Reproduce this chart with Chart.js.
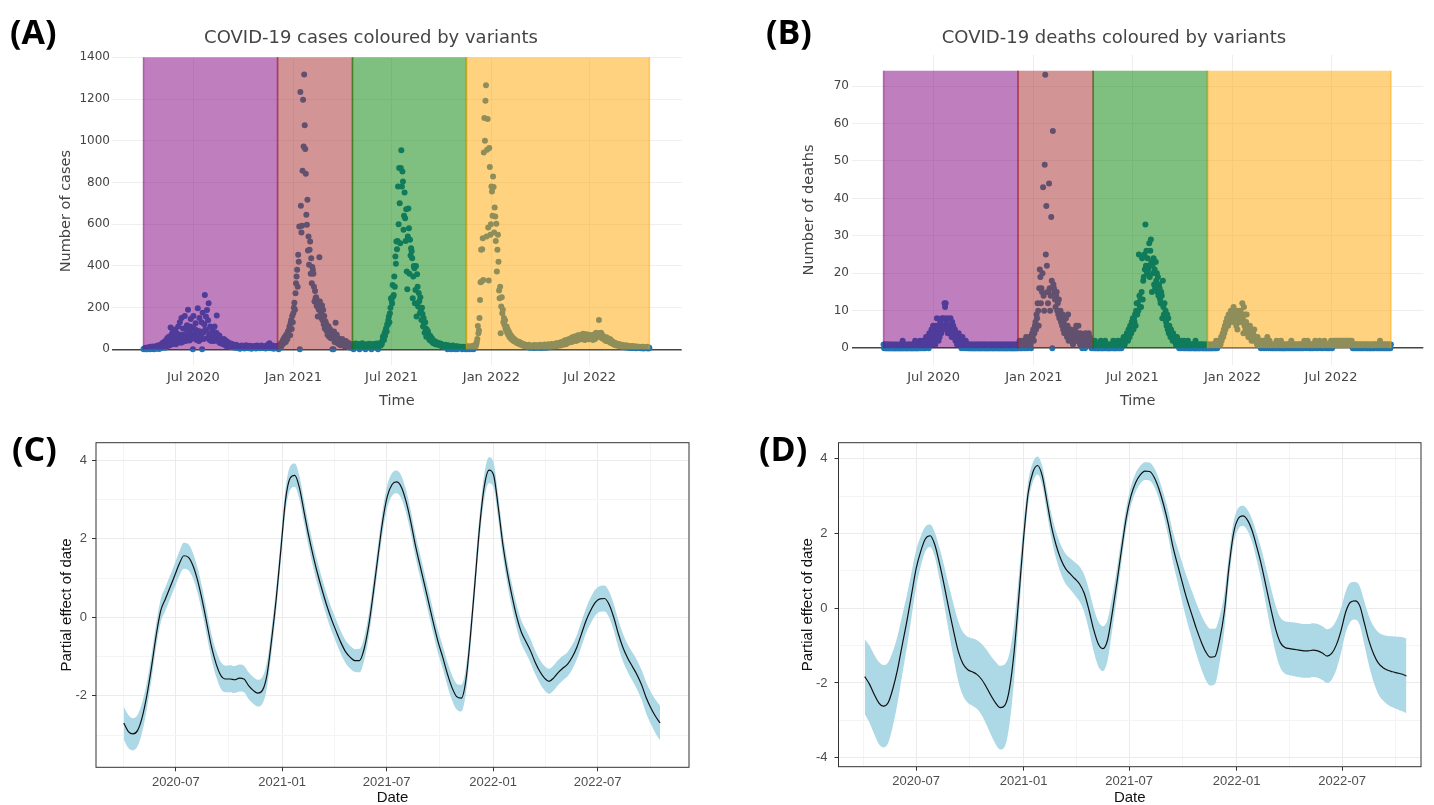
<!DOCTYPE html>
<html>
<head>
<meta charset="utf-8">
<script src="https://cdn.jsdelivr.net/npm/chart.js@4.4.0/dist/chart.umd.min.js"></script>
<style>
  body { margin: 0; background: #fff; width: 1434px; height: 805px; position: relative; overflow: hidden; }
  canvas { position: absolute; }
  .tag { position: absolute; font-family: "Open Sans", sans-serif; font-weight: 700; font-size: 34px; line-height: 34px; color: #000; }
  .ttl { position: absolute; font-family: "DejaVu Sans", sans-serif; font-size: 18px; line-height: 20px; color: #444; white-space: nowrap; transform: translateX(-50%); }
</style>
</head>
<body>
<canvas id="panelA" width="717" height="420" style="left:0;top:0"></canvas>
<canvas id="panelB" width="717" height="420" style="left:717px;top:0"></canvas>
<canvas id="panelC" width="717" height="385" style="left:0;top:420px"></canvas>
<canvas id="panelD" width="717" height="385" style="left:717px;top:420px"></canvas>

<div class="tag" style="left:10px;top:14px">(A)</div>
<div class="tag" style="left:766px;top:14px">(B)</div>
<div class="tag" style="left:12px;top:431px">(C)</div>
<div class="tag" style="left:759px;top:431px">(D)</div>
<div class="ttl" style="left:371px;top:27px">COVID-19 cases coloured by variants</div>
<div class="ttl" style="left:1114px;top:27px">COVID-19 deaths coloured by variants</div>

<script>
// daily series start on this date, one value per day
const seriesStart = '2020-03-31';

const cases = [
  2,0,5,3,8,1,4,0,6,10, 3,7,0,12,5,9,2,14,6,0, 8,11,4,15,3,9,18,6,12,2, 20,9,14,25,7,30,16,
  12,35,20,8,42,28,15,55,33,22, 60,18,45,105,38,72,25,90,50,
  45,30,95,60,25,78,40,55,110,35, 45,130,70,32,150,58,35,100,70,48, 160,65,40,95,115,55,190,60,85,42,
  110,145,50,105,70,0,160,55,98,80, 125,60,45,90,197,75,40,150,45,85, 62,130,0,175,80,50,120,261,95,157,
  90,189,55,140,221,70,45,109,60,40, 77,95,50,68,40,110,55,45,80,162, 50,70,45,35,65,30,50,40,28,45,
  40,25,50,30,45,20,35,15,38,28, 22,30,18,25,12,28,20,15,24,10, 18,12,20,8,15,22,10,
  8,12,5,15,10,3,14,9,18,6, 11,7,16,4,13,9,20,6,12,8, 15,5,10,17,7,12,3,14,9,11, 6,16,8,13,4,10,18,7,12,9,
  14,5,11,8,19,6,13,10,7,15, 9,12,4,16,8,11,22,6,14,29, 10,7,15,5,12,18,8,3,11,6, 14,9,16,12,
  5,12,0,18,13,25,8,30,20,38, 45,28,55,40,62,35,70,60,48,85, 75,93,110,68,125,140,98,160,130,173,
  200,224,190,269,317,349,381,300,453,420, 589,0,1234,688,560,592,856,1197,973,1317,
  1074,960,842,645,597,717,474,541,405,477, 517,362,437,317,395,380,362,300,229,280,
  245,250,210,205,157,230,190,442,229,195, 170,150,210,140,189,120,160,100,135,125,
  90,115,70,100,109,60,80,95,55,53, 75,0,65,0,85,35,60,128,45,70, 30,55,40,25,48,45,20,38,30,50,
  25,29,35,15,28,20,40,18,25,12, 20,30,10,16,25,8,18,22,
  18,25,0,14,22,16,28,10,20,15, 24,12,19,0,26,15,21,13,29,17, 11,23,16,20,0,14,25,18,12,22,
  15,27,13,19,24,0,16,21,11,26, 18,14,23,17,28,12,20,0,25,16, 22,30,19,32,26,40,61,50,45,77,
  65,90,101,85,120,117,140,157,130,173, 200,245,237,220,309,253,260,349,300,445,
  410,517,480,520,781,600,869,700,509,869, 954,781,853,805,573,640,752,629,520,672,
  373,288,541,675,580,362,525,450,485,470, 437,245,349,400,389,221,285,400,157,360,
  300,205,270,230,173,250,190,141,200,170, 109,150,125,80,130,100,61,95,75,85,
  70,55,45,65,50,40,55,35,45,29, 40,30,38,25,35,28,32,22,30,26, 24,20,28,18,25,15,22,19,12,20,
  16,22,10,18,14,0,20,12,17,8, 15,11,0,14,9,18,6,13,10,0, 12,8,15,0,10,14,7,11,5,9, 13,6,0,10,8,12,4,9,0,11,
  8,12,0,15,6,10,14,0,9,13, 7,16,11,0,18,12,20,15,25,35, 50,112,77,90,150,237,322,477,325,480,
  533,333,944,1109,1000,1192,1266,541,957,1104, 584,330,965,874,549,600,781,757,640,829,
  778,560,680,637,520,602,373,477,549,420, 282,245,300,77,205,250,173,190,130,150,
  117,140,100,93,110,80,95,70,85,61, 75,55,65,48,60,45,52,40,50,38, 44,35,40,30,38,32,28,36,25,32,
  30,22,28,20,26,18,24,15,22,20, 18,12,20,15,10,22,14,8,17,12, 16,10,19,13,7,21,11,15,9,18,
  12,20,8,14,17,10,22,13,6,16, 11,19,14,9,23,12,17,8,15,20, 13,24,10,18,15,21,12,26,16,19,
  22,14,25,17,28,20,15,24,30,18, 26,21,32,19,28,35,24,30,22,38, 28,42,33,25,45,36,40,30,48,35,
  44,38,52,40,35,58,45,50,42,62, 48,55,40,60,52,68,45,58,50,64, 55,70,48,62,58,75,52,64,45,60,
  56,72,50,66,60,48,70,55,62,58, 52,68,60,45,65,55,72,50,62,80, 58,75,64,70,141,65,78,60,80,55,
  70,52,62,48,58,45,55,40,58,50, 42,52,38,45,35,48,30,40,34,28, 37,25,32,22,30,20,28,24,18,26,
  22,16,25,18,20,14,22,12,19,15, 17,10,20,13,15,9,18,12,8,16, 11,14,7,13,10,16,8,12,6,15,
  9,13,5,11,14,7,10,12,6,9, 11,5,8,13,7,10,4,12,8,6, 10,5,9,7,12,4,8,6
];

const deaths = [
  1,0,1,1,0,0,1,0,1,0, 0,1,0,0,1,0,0,1,0,0, 1,0,0,0,1,0,0,0,1,0, 0,0,1,0,0,2,0,0,1,0,
  0,1,0,0,0,1,0,1,0,0, 1,0,0,1,0,0,1,0,2,0, 0,1,0,0,1,0,1,2,0,1, 1,0,2,1,0,1,2,0,3,1,
  2,3,1,0,4,2,3,1,5,2, 3,6,2,4,5,1,6,3,8,4, 5,2,6,3,7,5,4,8,6,5, 6,8,12,11,12,7,5,8,4,6,
  5,4,6,8,5,3,7,4,6,5, 3,5,2,4,3,1,3,2,4,1, 2,3,1,0,2,3,1,2,0,1, 1,2,0,1,1,0,1,0,1,0,
  0,1,0,1,0,0,1,0,0,1, 0,0,1,0,1,0,0,1,0,0, 1,0,0,1,0,1,0,0,1,0, 0,1,0,0,1,0,0,1,0,1,
  0,0,1,0,0,1,0,1,0,0, 1,0,0,1,0,0,1,0,1,0, 0,1,0,0,1,0,0,1,0,0, 1,0,1,0,0,1,0,0,1,0, 0,1,0,0,1,0,1,
  0,1,0,2,1,0,1,0,2,1, 1,0,2,1,0,3,1,2,0,2, 1,3,2,1,0,2,4,3,5,2, 4,6,7,5,9,8,12,10,6,16,
  21,19,12,16,15,20,43,14,10,49, 73,25,38,22,15,12,15,44,16,10, 14,35,18,0,58,17,16,15,13,11,
  14,15,10,12,9,13,8,9,10,7, 8,6,9,5,7,4,6,5,8,4, 3,6,9,2,5,4,3,5,2,4, 3,1,4,2,3,5,2,6,3,2,
  4,6,2,3,1,4,2,3,0,2, 1,3,2,0,4,1,2,3,1,2, 4,2,3,1,2,0,1,2,
  1,0,1,2,0,1,0,1,1,0, 0,1,0,1,2,0,1,0,0,1, 1,0,2,1,0,1,0,1,0,0, 1,0,1,0,1,1,0,2,0,1,
  0,1,0,1,0,2,1,0,1,0, 1,2,0,1,2,1,3,2,1,2, 3,2,4,3,2,5,4,3,6,5, 4,7,6,8,5,8,7,9,6,10,
  12,9,12,10,25,14,11,13,11,15, 24,13,18,19,25,21,33,22,26,20, 24,21,22,28,19,26,29,23,15,22,
  20,24,17,21,16,23,18,20,15,19, 14,17,16,13,12,15,14,8,18,11, 9,12,8,10,7,6,9,5,8,4,
  6,5,3,5,4,3,2,4,3,2, 3,2,1,2,3,1,2,1,0,2, 1,0,2,1,1,0,1,2,0,1, 0,1,1,0,2,0,1,0,1,0,
  1,0,1,1,0,0,1,0,2,0, 0,1,0,1,0,0,1,0,1,1, 0,1,0,0,1,0,1,0,0,1,
  0,1,0,0,1,0,1,0,0,1, 0,1,1,0,1,0,2,1,0,1, 1,2,1,2,1,3,2,3,4,3, 5,4,6,5,7,6,8,7,6,9,
  8,7,9,10,8,9,10,7,11,9, 10,8,9,6,10,5,8,9,7,10, 8,10,7,9,12,8,4,11,6,9, 5,7,9,4,6,3,5,4,6,3,
  4,2,5,3,4,2,5,3,2,3, 2,1,3,2,1,2,1,2,0,1, 2,1,1,2,0,1,2,1,0,1, 3,1,0,1,2,1,0,1,1,0,
  1,0,1,1,0,1,0,2,1,0, 1,1,0,1,0,2,1,0,1,0, 0,1,1,0,1,0,1,1,0,1, 1,0,1,0,2,1,0,1,1,0,
  1,1,0,1,0,1,1,0,1,1, 0,1,1,0,1,1,0,1,2,1, 1,0,1,1,2,1,0,1,1,0, 1,1,0,1,1,0,1,1,2,1,
  0,1,1,1,0,1,2,1,1,0, 1,1,0,1,1,2,1,0,1,1, 1,0,1,1,0,1,1,2,1,0, 1,1,2,1,1,2,1,2,1,1,
  2,1,1,2,1,2,1,1,2,1, 1,2,1,1,2,1,2,1,1,2, 1,2,1,1,1,2,1,0,1,1, 0,1,1,0,1,1,0,1,1,0,
  1,0,1,1,0,1,0,1,1,0, 1,1,0,1,0,1,1,0,1,0, 0,1,1,0,1,0,1,1,0,1, 1,0,1,0,1,1,0,2,1,0,
  1,0,1,1,0,1,0,1,1,0, 1,0,1,1,0,1,0,1
];

const variantNames = ['Original', 'Alpha', 'Delta', 'Omicron'];
const variantStarts = ['2020-03-31', '2020-12-03', '2021-04-20', '2021-11-16'];
const variantEnd = '2022-10-19';
const variantColours = ['rgba(128,0,128,0.5)', 'rgba(165,42,42,0.5)', 'rgba(0,128,0,0.5)', 'rgba(255,165,0,0.5)'];

const monthTicks = ['2020-07-01', '2021-01-01', '2021-07-01', '2022-01-01', '2022-07-01'];
const minorTicks = ['2020-04-01', '2020-10-01', '2021-04-01', '2021-10-01', '2022-04-01', '2022-10-01'];
const plotlyMonthLabels = ['Jul 2020', 'Jan 2021', 'Jul 2021', 'Jan 2022', 'Jul 2022'];
const ggMonthLabels = ['2020-07', '2021-01', '2021-07', '2022-01', '2022-07'];
const caseTicks = [0, 200, 400, 600, 800, 1000, 1200, 1400];
const deathTicks = [0, 10, 20, 30, 40, 50, 60, 70];

// smooth terms, one value every 8 days
const sampleStep = 8;
const effectStartC = '2020-04-02';
const effectC = [
  -2.69,-2.91,-2.97,-2.88,-2.54,-1.99,-1.27,-0.47,0.17,0.47, 0.76,1.06,1.36,1.57,1.53,1.31,0.93,0.42,-0.17,-0.76,
  -1.19,-1.48,-1.57,-1.57,-1.59,-1.55,-1.57,-1.74,-1.86,-1.93, -1.86,-1.45,-0.55,0.50,1.75,3.00,3.55,3.62,3.30,2.69,
  2.08,1.55,1.08,0.66,0.27,-0.07,-0.37,-0.65,-0.88,-1.02, -1.10,-1.10,-0.80,-0.20,0.65,1.57,2.45,3.08,3.38,3.45,
  3.33,2.98,2.48,1.88,1.36,0.86,0.35,-0.16,-0.63,-1.02, -1.44,-1.79,-2.02,-2.06,-1.60,-0.45,0.95,2.35,3.35,3.75,
  3.62,2.80,1.85,1.12,0.53,0.01,-0.38,-0.62,-0.86,-1.15, -1.38,-1.55,-1.63,-1.54,-1.40,-1.29,-1.19,-1.01,-0.76,-0.42,
  -0.08,0.18,0.38,0.47,0.48,0.32,-0.01,-0.43,-0.78,-1.04, -1.25,-1.46,-1.72,-2.05,-2.31,-2.52,-2.69
];
const effectLoC = [
  -3.11,-3.33,-3.39,-3.28,-2.92,-2.33,-1.59,-0.77,-0.13,0.17, 0.46,0.76,1.05,1.24,1.20,0.99,0.61,0.10,-0.49,-1.08,
  -1.52,-1.82,-1.91,-1.91,-1.93,-1.89,-1.91,-2.08,-2.20,-2.27, -2.20,-1.78,-0.86,0.20,1.45,2.70,3.25,3.32,3.00,2.40,
  1.79,1.26,0.79,0.37,-0.02,-0.36,-0.66,-0.94,-1.17,-1.31, -1.39,-1.40,-1.10,-0.50,0.35,1.28,2.16,2.79,3.09,3.16,
  3.04,2.69,2.19,1.59,1.07,0.57,0.06,-0.45,-0.92,-1.31, -1.74,-2.11,-2.35,-2.40,-1.93,-0.77,0.64,2.03,3.03,3.42,
  3.30,2.49,1.55,0.82,0.23,-0.29,-0.68,-0.92,-1.16,-1.45, -1.68,-1.86,-1.95,-1.86,-1.72,-1.60,-1.50,-1.32,-1.07,-0.74,
  -0.40,-0.15,0.05,0.14,0.15,-0.01,-0.35,-0.78,-1.13,-1.39, -1.61,-1.83,-2.10,-2.45,-2.72,-2.95,-3.13
];
const effectHiC = [
  -2.27,-2.49,-2.57,-2.48,-2.16,-1.65,-0.95,-0.17,0.47,0.77, 1.06,1.36,1.67,1.90,1.86,1.63,1.25,0.74,0.15,-0.44,
  -0.86,-1.14,-1.23,-1.22,-1.24,-1.20,-1.23,-1.40,-1.52,-1.59, -1.52,-1.12,-0.24,0.80,2.05,3.30,3.85,3.92,3.60,2.98,
  2.37,1.84,1.37,0.95,0.56,0.22,-0.08,-0.36,-0.59,-0.73, -0.81,-0.80,-0.50,0.10,0.95,1.86,2.74,3.37,3.67,3.74,
  3.62,3.27,2.77,2.17,1.65,1.15,0.64,0.13,-0.34,-0.73, -1.14,-1.47,-1.69,-1.72,-1.27,-0.13,1.26,2.67,3.67,4.08,
  3.94,3.11,2.15,1.42,0.83,0.31,-0.08,-0.32,-0.56,-0.85, -1.08,-1.24,-1.31,-1.22,-1.08,-0.98,-0.88,-0.70,-0.45,-0.10,
  0.24,0.51,0.71,0.80,0.81,0.65,0.33,-0.08,-0.43,-0.69, -0.89,-1.09,-1.34,-1.65,-1.90,-2.09,-2.25
];

const effectStartD = '2020-04-04';
const effectD = [
  -1.83,-2.03,-2.30,-2.53,-2.62,-2.53,-2.16,-1.65,-1.00,-0.36, 0.35,1.06,1.53,1.86,1.94,1.70,1.20,0.62,-0.01,-0.60,
  -1.14,-1.48,-1.64,-1.70,-1.77,-1.90,-2.10,-2.33,-2.53,-2.66, -2.60,-2.15,-1.15,0.31,1.86,3.09,3.64,3.82,3.55,2.87,
  2.18,1.68,1.31,1.06,0.92,0.79,0.65,0.40,-0.04,-0.56, -0.95,-1.08,-0.85,-0.13,0.69,1.58,2.42,3.00,3.36,3.57,
  3.67,3.66,3.50,3.19,2.77,2.26,1.64,1.16,0.69,0.24, -0.15,-0.54,-0.88,-1.16,-1.31,-1.29,-0.84,-0.10,1.10,2.02,
  2.40,2.47,2.35,2.06,1.62,1.13,0.55,-0.03,-0.56,-0.92, -1.05,-1.08,-1.10,-1.12,-1.14,-1.14,-1.12,-1.14,-1.20,-1.28,
  -1.21,-0.98,-0.60,-0.10,0.16,0.20,0.07,-0.40,-0.88,-1.23, -1.47,-1.59,-1.66,-1.70,-1.73,-1.76,-1.81
];
const effectLoD = [
  -2.83,-3.06,-3.36,-3.63,-3.72,-3.61,-3.16,-2.55,-1.80,-1.06, -0.25,0.56,1.13,1.53,1.64,1.37,0.78,0.10,-0.63,-1.32,
  -1.94,-2.33,-2.52,-2.60,-2.69,-2.85,-3.10,-3.38,-3.63,-3.78, -3.70,-3.10,-1.90,-0.24,1.46,2.79,3.38,3.58,3.29,2.57,
  1.85,1.32,0.93,0.66,0.50,0.35,0.18,-0.10,-0.58,-1.14, -1.55,-1.68,-1.40,-0.58,0.31,1.26,2.14,2.74,3.11,3.33,
  3.43,3.42,3.25,2.92,2.47,1.91,1.24,0.70,0.17,-0.34, -0.78,-1.22,-1.60,-1.91,-2.07,-2.03,-1.46,-0.58,0.74,1.72,
  2.12,2.20,2.07,1.75,1.26,0.71,0.05,-0.60,-1.19,-1.59, -1.75,-1.79,-1.82,-1.84,-1.86,-1.86,-1.84,-1.86,-1.92,-2.00,
  -1.91,-1.64,-1.20,-0.65,-0.36,-0.30,-0.45,-0.98,-1.54,-1.98, -2.30,-2.47,-2.58,-2.65,-2.70,-2.75,-2.81
];
const effectHiD = [
  -0.83,-1.00,-1.24,-1.43,-1.52,-1.45,-1.16,-0.75,-0.20,0.34, 0.95,1.56,1.93,2.19,2.24,2.03,1.62,1.14,0.61,0.12,
  -0.34,-0.63,-0.76,-0.80,-0.85,-0.95,-1.10,-1.28,-1.43,-1.54, -1.50,-1.20,-0.40,0.86,2.26,3.39,3.90,4.06,3.81,3.17,
  2.51,2.04,1.69,1.46,1.34,1.23,1.12,0.90,0.50,0.02, -0.35,-0.48,-0.30,0.32,1.07,1.90,2.70,3.26,3.61,3.81,
  3.91,3.90,3.75,3.46,3.07,2.61,2.04,1.62,1.21,0.82, 0.48,0.14,-0.16,-0.41,-0.55,-0.55,-0.22,0.38,1.46,2.32,
  2.68,2.74,2.63,2.37,1.98,1.55,1.05,0.54,0.07,-0.25, -0.35,-0.37,-0.38,-0.40,-0.42,-0.42,-0.40,-0.42,-0.48,-0.56,
  -0.51,-0.32,0.00,0.45,0.68,0.70,0.59,0.18,-0.22,-0.48, -0.64,-0.71,-0.74,-0.75,-0.76,-0.77,-0.81
];

const day0 = Date.UTC(2020, 0, 1);
const dayOf = s => Math.round((Date.parse(s) - day0) / 86400000);

const plotlyXTick = { family: '"DejaVu Sans", sans-serif', size: 13 };
const plotlyYTick = { family: '"DejaVu Sans", sans-serif', size: 12 };
const plotlyAxisTitle = { family: '"DejaVu Sans", sans-serif', size: 14.5 };
const ggTick = { family: '"Liberation Sans", Arial, sans-serif', size: 13 };
const ggAxisTitle = { family: '"Liberation Sans", Arial, sans-serif', size: 15, lineHeight: 1 };

// variant periods painted over the points, like plotly shapes
const variantBands = {
  id: 'variantBands',
  afterDatasetsDraw(chart, args, opts) {
    const { ctx, scales: { x, y } } = chart;
    const top = y.getPixelForValue(opts.top);
    const base = y.getPixelForValue(0);
    ctx.save();
    variantStarts.forEach((s, i) => {
      const x0 = x.getPixelForValue(dayOf(s));
      const x1 = x.getPixelForValue(dayOf(variantStarts[i + 1] || variantEnd));
      ctx.fillStyle = variantColours[i];
      ctx.fillRect(x0, top, x1 - x0, base - top);
      ctx.strokeStyle = variantColours[i];
      ctx.lineWidth = 1.5;
      ctx.beginPath();
      ctx.moveTo(x0, top); ctx.lineTo(x0, base);
      ctx.moveTo(x1, top); ctx.lineTo(x1, base);
      ctx.stroke();
    });
    ctx.restore();
  }
};

const panelBorder = {
  id: 'panelBorder',
  afterDraw(chart) {
    const { ctx, chartArea: a } = chart;
    ctx.save();
    ctx.strokeStyle = '#333';
    ctx.lineWidth = 1;
    ctx.strokeRect(a.left, a.top, a.right - a.left, a.bottom - a.top);
    ctx.restore();
  }
};

function scatterPanel(id, values, p) {
  const first = dayOf(seriesStart);
  return new Chart(document.getElementById(id), {
    type: 'scatter',
    data: {
      datasets: [{
        label: p.label,
        data: values.map((v, i) => ({ x: first + i, y: v })),
        backgroundColor: '#1f77b4',
        borderWidth: 0,
        pointRadius: 3,
        pointHoverRadius: 3
      }]
    },
    options: {
      responsive: false,
      animation: false,
      devicePixelRatio: 1,
      events: [],
      layout: { padding: { left: 0, top: p.top, right: p.right, bottom: 10 } },
      plugins: { legend: { display: false }, tooltip: { enabled: false }, variantBands: { top: p.bandTop } },
      scales: {
        x: {
          type: 'linear', min: 32, max: 1081.5,
          afterBuildTicks: s => { s.ticks = monthTicks.map(d => ({ value: dayOf(d) })); },
          afterFit: s => { s.height = 45; },
          grid: { color: '#eeeeee', drawTicks: false },
          border: { display: false },
          ticks: { callback: (v, i) => plotlyMonthLabels[i], color: '#444', font: plotlyXTick, padding: 5, maxRotation: 0, autoSkip: false },
          title: { display: true, text: 'Time', color: '#444', font: plotlyAxisTitle, padding: 0 }
        },
        y: {
          min: p.yMin, max: p.yMax,
          afterBuildTicks: s => { s.ticks = p.yTicks.map(v => ({ value: v })); },
          afterFit: s => { s.width = p.yWidth; },
          grid: {
            color: c => (c.tick && c.tick.value === 0 ? '#444' : '#eeeeee'),
            lineWidth: c => (c.tick && c.tick.value === 0 ? 1.5 : 1),
            drawTicks: false
          },
          border: { display: false },
          ticks: { callback: v => String(v), color: '#444', font: plotlyYTick, padding: p.tickPad },
          title: { display: true, text: p.yTitle, color: '#444', font: plotlyAxisTitle, padding: { top: p.titlePad, bottom: 0 } }
        }
      }
    },
    plugins: [variantBands]
  });
}

function effectPanel(id, start, fit, lo, hi, p) {
  const first = dayOf(start);
  const pts = arr => arr.map((v, i) => ({ x: first + sampleStep * i, y: v }));
  const major = monthTicks.map(dayOf);
  const minor = minorTicks.map(dayOf);
  const clear = 'rgba(0,0,0,0)';
  return new Chart(document.getElementById(id), {
    type: 'line',
    data: {
      datasets: [
        { label: 'upper', order: 1, data: pts(hi), fill: '+1', backgroundColor: '#add8e6', borderColor: clear, borderWidth: 0, pointRadius: 0, cubicInterpolationMode: 'monotone' },
        { label: 'lower', order: 2, data: pts(lo), fill: false, borderColor: clear, borderWidth: 0, pointRadius: 0, cubicInterpolationMode: 'monotone' },
        { label: 'fit', order: 0, data: pts(fit), fill: false, borderColor: '#111', borderWidth: 1.2, pointRadius: 0, cubicInterpolationMode: 'monotone' }
      ]
    },
    options: {
      responsive: false,
      animation: false,
      devicePixelRatio: 1,
      events: [],
      layout: { padding: { left: 0, top: 22.7, right: p.right, bottom: 0 } },
      plugins: { legend: { display: false }, tooltip: { enabled: false } },
      scales: {
        x: {
          type: 'linear', min: p.xMin, max: p.xMax,
          afterBuildTicks: s => { s.ticks = major.concat(minor).sort((a, b) => a - b).map(v => ({ value: v })); },
          afterFit: s => { s.height = p.xHeight; },
          grid: {
            color: c => (major.includes(c.tick.value) ? '#ebebeb' : '#f4f4f4'),
            tickColor: c => (major.includes(c.tick.value) ? '#333' : clear),
            tickLength: 4
          },
          border: { display: false },
          ticks: {
            callback: v => { const i = major.indexOf(v); return i < 0 ? '' : ggMonthLabels[i]; },
            color: '#4d4d4d', font: ggTick, padding: 3, maxRotation: 0, autoSkip: false
          },
          title: { display: true, text: 'Date', color: '#111', font: ggAxisTitle, padding: 0 }
        },
        y: {
          min: p.yMin, max: p.yMax,
          afterBuildTicks: s => { s.ticks = p.yTicks.map(v => ({ value: v })); },
          afterFit: s => { s.width = p.yWidth; },
          grid: {
            color: c => (c.tick.value % 2 === 0 ? '#ebebeb' : '#f4f4f4'),
            tickColor: c => (c.tick.value % 2 === 0 ? '#333' : clear),
            tickLength: 4
          },
          border: { display: false },
          ticks: { callback: v => (v % 2 === 0 ? String(v) : ''), color: '#4d4d4d', font: ggTick, padding: p.tickPad },
          title: { display: true, text: 'Partial effect of date', color: '#111', font: ggAxisTitle, padding: { top: p.titlePad, bottom: 0 } }
        }
      }
    },
    plugins: [panelBorder]
  });
}

scatterPanel('panelA', cases, {
  label: 'Cases', top: 57.3, right: 35.3, yWidth: 112, yMin: -75, yMax: 1400,
  yTicks: caseTicks, bandTop: 1400, tickPad: 2, titlePad: 58, yTitle: 'Number of cases'
});
scatterPanel('panelB', deaths, {
  label: 'Deaths', top: 55, right: 10.7, yWidth: 135, yMin: -4.5, yMax: 78.3,
  yTicks: deathTicks, bandTop: 74.1, tickPad: 3, titlePad: 84, yTitle: 'Number of deaths'
});
effectPanel('panelC', effectStartC, effectC, effectLoC, effectHiC, {
  right: 28, yWidth: 96, xHeight: 37.7, xMin: 44, xMax: 1070, yMin: -3.82, yMax: 4.45,
  yTicks: [-3, -2, -1, 0, 1, 2, 3, 4], tickPad: 5, titlePad: 59
});
effectPanel('panelD', effectStartD, effectD, effectLoD, effectHiD, {
  right: 13, yWidth: 121.5, xHeight: 38.3, xMin: 49, xMax: 1047, yMin: -4.24, yMax: 4.43,
  yTicks: [-4, -3, -2, -1, 0, 1, 2, 3, 4], tickPad: 7, titlePad: 83.5
});
</script>
</body>
</html>
